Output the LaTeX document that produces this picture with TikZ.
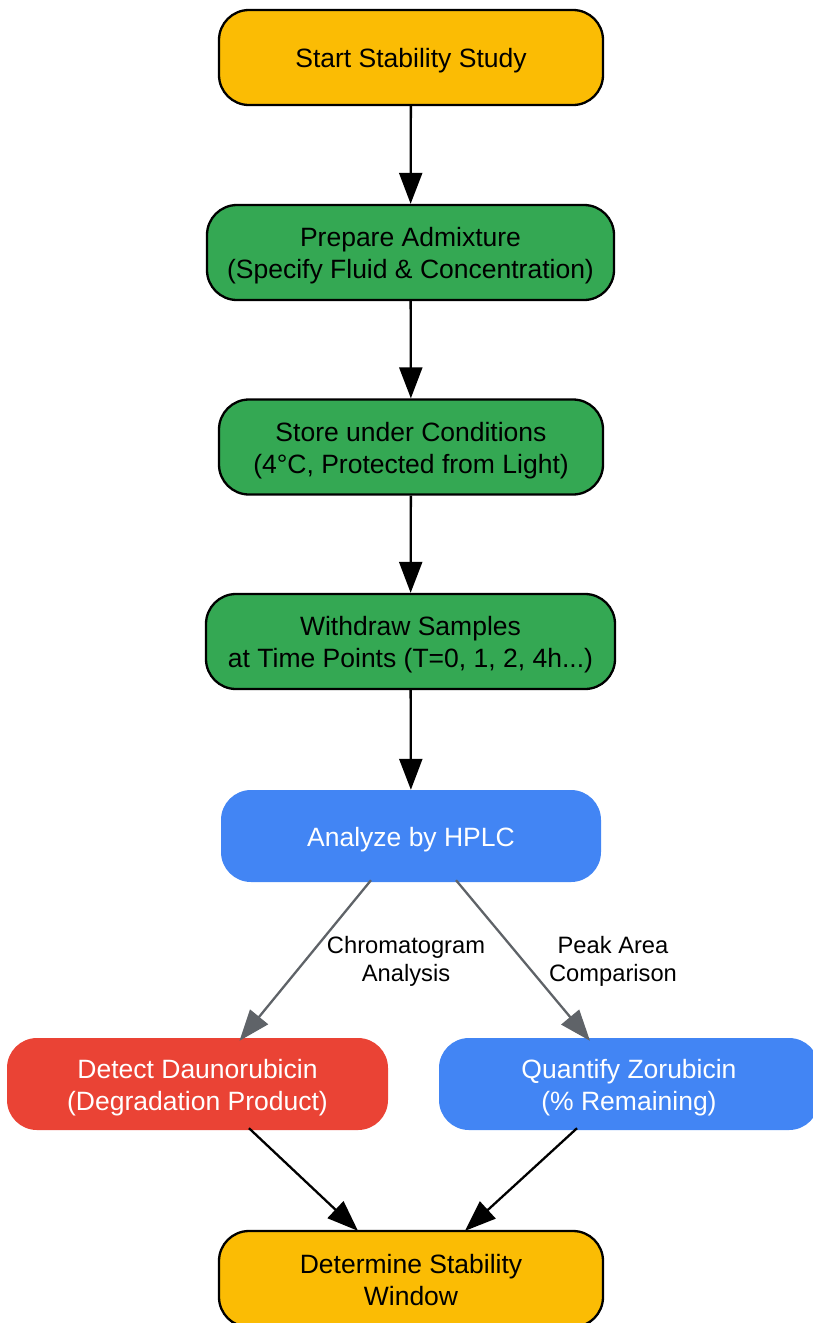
\documentclass[tikz,border=0pt]{standalone}
\usepackage{fontspec}
\setmainfont{Liberation Sans}
\usetikzlibrary{arrows.meta}
\definecolor{gyellow}{HTML}{FBBC04}
\definecolor{ggreen}{HTML}{34A853}
\definecolor{gblue}{HTML}{4285F4}
\definecolor{gred}{HTML}{EA4335}
\definecolor{ggray}{HTML}{5F6368}
\newcommand{\tx}[1]{\raisebox{-4pt}[\height][\depth]{\begin{tabular}{@{}c@{}}#1\end{tabular}}}
\begin{document}
\begin{tikzpicture}[x=1pt,y=-1pt,
  box/.style={rounded corners=30pt,minimum height=95pt,
    font=\fontsize{26.5}{32}\selectfont,inner sep=0pt},
  bordered/.style={box,draw=black,line width=2.3pt},
  plain/.style={box,text=white,minimum height=92pt},
  flow/.style={-{Triangle[length=31pt,width=23pt]},line width=2.3pt,black},
  soft/.style={-{Triangle[length=31pt,width=23pt]},line width=2.3pt,ggray},
  lbl/.style={font=\fontsize{23.7}{28}\selectfont,align=center,inner sep=0pt,text=black}]
\useasboundingbox (0,0) rectangle (813,1323);
\node[bordered,fill=gyellow,minimum width=384pt] (start) at (411,57.5) {\tx{Start Stability Study}};
\node[bordered,fill=ggreen,minimum width=407pt] (prep) at (410.5,252.5) {\tx{Prepare Admixture\\(Specify Fluid \& Concentration)}};
\node[bordered,fill=ggreen,minimum width=384pt] (store) at (411,447) {\tx{Store under Conditions\\(4°C, Protected from Light)}};
\node[bordered,fill=ggreen,minimum width=409pt] (withdraw) at (410.5,641.5) {\tx{Withdraw Samples\\at Time Points (T=0, 1, 2, 4h...)}};
\node[plain,fill=gblue,minimum width=380pt] (hplc) at (411,836) {\tx{Analyze by HPLC}};
\node[plain,fill=gred,minimum width=381pt] (detect) at (197.5,1084) {\tx{Detect Daunorubicin\\(Degradation Product)}};
\node[plain,fill=gblue,minimum width=380pt] (quant) at (629,1084) {\tx{Quantify Zorubicin\\(\% Remaining)}};
\node[bordered,fill=gyellow,minimum width=384pt,minimum height=96pt] (det) at (411,1279) {\tx{Determine Stability\\Window}};
\draw[flow] (start) -- (prep);
\draw[flow] (prep) -- (store);
\draw[flow] (store) -- (withdraw);
\draw[flow] (withdraw) -- (hplc);
\draw[soft] ([xshift=-40pt,yshift=2pt]hplc.south) -- ([xshift=42pt,yshift=-3pt]detect.north);
\draw[soft] ([xshift=45pt,yshift=2pt]hplc.south) -- ([xshift=-39pt,yshift=-3pt]quant.north);
\node[lbl] (l1) at (406,961) {Chromatogram\\Analysis};
\node[lbl] (l2) at (613,961) {Peak Area\\Comparison};
\draw[flow] ([xshift=51.5pt,yshift=2pt]detect.south) -- ([xshift=-53pt,yshift=-1pt]det.north);
\draw[flow] ([xshift=-52pt,yshift=2pt]quant.south) -- ([xshift=54pt,yshift=-1pt]det.north);
\end{tikzpicture}
\end{document}
